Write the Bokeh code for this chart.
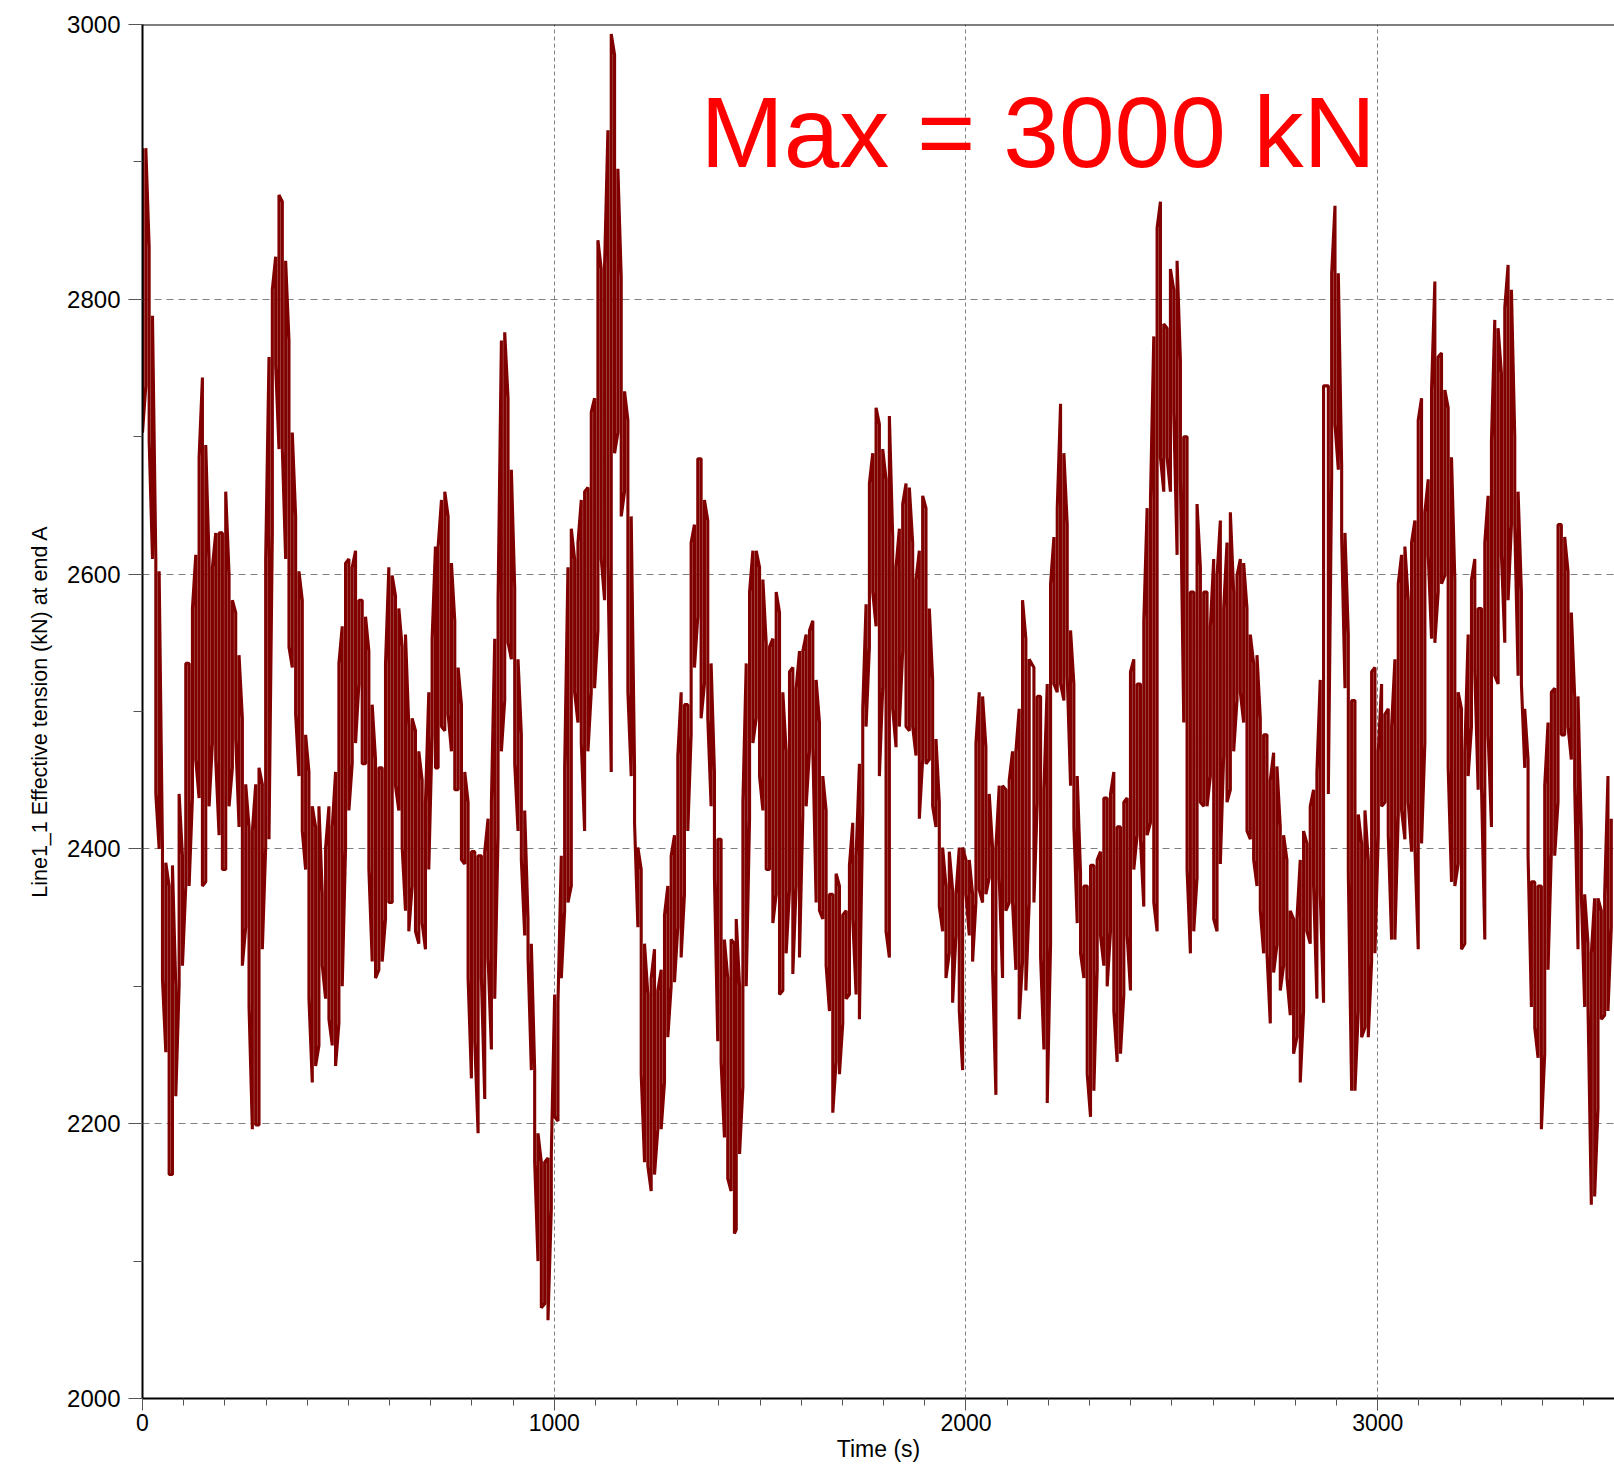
from bokeh.plotting import figure
from bokeh.models import SingleIntervalTicker, Span, Label, Range1d, ColumnDataSource
from bokeh.embed import file_html
from bokeh.resources import INLINE

# ---- Data -----------------------------------------------------------------
# The trace is very dense; it is recorded as the upper and lower extent of the
# tension (kN) within successive ~8 s windows, in five consecutive segments.
segment_start_s = [0.0, 718.0, 1442.0, 2165.0, 2880.0]
window_s = 8.085

upper_a = [2910, 2910, 2838, 2788, 2611, 2602, 2400, 2390, 2373, 2388,
           2300, 2440, 2395, 2535, 2535, 2575, 2614, 2685, 2743, 2694,
           2611, 2605, 2630, 2630, 2630, 2660, 2600, 2581, 2572, 2541,
           2495, 2447, 2416, 2413, 2447, 2459, 2447, 2611, 2758, 2807,
           2831, 2876, 2871, 2828, 2770, 2703, 2642, 2602, 2581, 2483,
           2456, 2431, 2416, 2431, 2367, 2401, 2431, 2416, 2456, 2535,
           2562, 2608, 2611, 2605, 2617, 2581, 2581, 2569, 2544, 2505,
           2465, 2459, 2459, 2535, 2605, 2599, 2584, 2575, 2547, 2556,
           2489, 2495, 2486, 2471, 2450, 2434, 2514, 2553, 2620]
lower_a = [2703, 2737, 2697, 2611, 2440, 2400, 2305, 2252, 2163, 2163,
           2220, 2300, 2315, 2373, 2373, 2437, 2465, 2437, 2373, 2376,
           2431, 2477, 2465, 2410, 2385, 2385, 2431, 2459, 2480, 2416,
           2315, 2343, 2285, 2196, 2199, 2199, 2327, 2401, 2407, 2630,
           2752, 2691, 2691, 2611, 2547, 2532, 2498, 2453, 2413, 2385,
           2291, 2230, 2242, 2257, 2315, 2291, 2276, 2257, 2242, 2273,
           2300, 2401, 2428, 2462, 2477, 2520, 2462, 2462, 2385, 2318,
           2306, 2312, 2318, 2349, 2361, 2361, 2446, 2428, 2401, 2355,
           2340, 2373, 2340, 2331, 2346, 2327, 2385, 2483, 2459]

upper_b = [2620, 2654, 2660, 2642, 2608, 2566, 2532, 2505, 2456, 2434,
           2398, 2398, 2395, 2395, 2398, 2422, 2434, 2553, 2581, 2770,
           2776, 2728, 2676, 2590, 2538, 2483, 2428, 2349, 2331, 2239,
           2193, 2172, 2172, 2175, 2178, 2294, 2288, 2395, 2459, 2605,
           2633, 2611, 2623, 2654, 2660, 2663, 2718, 2728, 2843, 2822,
           2825, 2923, 2993, 2978, 2895, 2816, 2733, 2712, 2642, 2459,
           2401, 2385, 2331, 2294, 2306, 2327, 2297, 2312, 2352, 2373,
           2395, 2410, 2468, 2514, 2505, 2505, 2623, 2636, 2684, 2684,
           2654, 2639, 2535, 2456, 2407, 2407, 2334, 2306, 2334, 2331]
lower_b = [2459, 2489, 2486, 2498, 2471, 2443, 2443, 2392, 2389, 2306,
           2233, 2260, 2193, 2306, 2218, 2321, 2254, 2291, 2410, 2471,
           2508, 2550, 2538, 2462, 2413, 2392, 2337, 2321, 2239, 2172,
           2100, 2066, 2069, 2057, 2138, 2205, 2202, 2306, 2355, 2361,
           2373, 2514, 2492, 2477, 2413, 2471, 2514, 2517, 2559, 2611,
           2581, 2608, 2456, 2688, 2703, 2642, 2660, 2514, 2453, 2419,
           2343, 2236, 2172, 2169, 2151, 2163, 2196, 2196, 2230, 2263,
           2300, 2303, 2343, 2321, 2367, 2413, 2483, 2532, 2569, 2495,
           2520, 2495, 2431, 2379, 2260, 2245, 2190, 2160, 2151, 2120]

upper_c = [2349, 2300, 2434, 2535, 2587, 2617, 2617, 2605, 2596, 2550,
           2547, 2553, 2587, 2572, 2514, 2471, 2529, 2532, 2517, 2544,
           2544, 2556, 2559, 2566, 2523, 2492, 2453, 2428, 2367, 2367,
           2382, 2373, 2352, 2355, 2388, 2419, 2395, 2462, 2502, 2578,
           2666, 2688, 2721, 2709, 2691, 2669, 2715, 2627, 2605, 2633,
           2651, 2666, 2663, 2623, 2596, 2617, 2657, 2648, 2575, 2523,
           2480, 2434, 2401, 2373, 2398, 2370, 2367, 2401, 2401, 2392,
           2392, 2367, 2477, 2514, 2511, 2474, 2440, 2401, 2401, 2446,
           2446, 2443, 2450, 2471, 2471, 2502, 2581, 2553, 2538]
lower_c = [2123, 2178, 2227, 2300, 2422, 2477, 2495, 2453, 2428, 2385,
           2385, 2346, 2367, 2294, 2297, 2324, 2370, 2309, 2373, 2321,
           2425, 2431, 2471, 2474, 2361, 2355, 2349, 2315, 2282, 2208,
           2245, 2236, 2273, 2291, 2294, 2349, 2294, 2276, 2428, 2489,
           2547, 2587, 2562, 2453, 2517, 2340, 2321, 2502, 2474, 2489,
           2544, 2489, 2486, 2489, 2468, 2422, 2465, 2462, 2465, 2431,
           2416, 2358, 2340, 2306, 2324, 2288, 2337, 2282, 2239, 2367,
           2337, 2318, 2361, 2370, 2361, 2367, 2379, 2312, 2221, 2379,
           2306, 2355, 2361, 2361, 2312, 2276, 2318, 2297, 2361]

upper_d = [2532, 2511, 2511, 2443, 2520, 2593, 2627, 2648, 2724, 2688,
           2636, 2559, 2520, 2453, 2382, 2373, 2373, 2388, 2388, 2392,
           2398, 2437, 2437, 2440, 2456, 2416, 2416, 2434, 2437, 2529,
           2538, 2520, 2520, 2566, 2648, 2654, 2773, 2852, 2871, 2782,
           2779, 2822, 2807, 2828, 2755, 2700, 2700, 2587, 2587, 2651,
           2605, 2587, 2587, 2562, 2611, 2599, 2639, 2575, 2623, 2645,
           2587, 2599, 2611, 2608, 2575, 2556, 2535, 2541, 2495, 2483,
           2483, 2450, 2470, 2460, 2416, 2410, 2392, 2355, 2349, 2349,
           2392, 2413, 2404, 2431, 2443, 2456, 2523, 2737]
lower_d = [2361, 2434, 2321, 2254, 2215, 2331, 2520, 2514, 2520, 2508,
           2526, 2446, 2416, 2346, 2324, 2306, 2236, 2205, 2224, 2312,
           2337, 2315, 2300, 2340, 2282, 2245, 2251, 2294, 2337, 2297,
           2385, 2410, 2407, 2358, 2410, 2419, 2361, 2340, 2685, 2660,
           2685, 2660, 2718, 2614, 2669, 2492, 2385, 2324, 2340, 2379,
           2434, 2431, 2431, 2453, 2349, 2340, 2389, 2468, 2434, 2443,
           2471, 2508, 2514, 2492, 2413, 2407, 2392, 2373, 2355, 2324,
           2324, 2273, 2310, 2330, 2297, 2315, 2306, 2279, 2251, 2263,
           2230, 2282, 2340, 2331, 2373, 2291, 2367, 2288]

upper_e = [2737, 2819, 2868, 2819, 2679, 2630, 2556, 2508, 2508, 2425,
           2404, 2428, 2392, 2529, 2532, 2471, 2520, 2498, 2502, 2489,
           2538, 2593, 2614, 2620, 2581, 2623, 2639, 2712, 2728, 2645,
           2669, 2734, 2813, 2758, 2761, 2734, 2721, 2685, 2596, 2514,
           2502, 2471, 2556, 2596, 2611, 2575, 2575, 2623, 2657, 2697,
           2785, 2779, 2746, 2794, 2825, 2807, 2700, 2660, 2587, 2502,
           2465, 2376, 2376, 2373, 2373, 2446, 2492, 2514, 2517, 2636,
           2636, 2627, 2602, 2572, 2511, 2511, 2413, 2367, 2331, 2324,
           2364, 2364, 2355, 2367, 2453, 2422]
lower_e = [2440, 2672, 2709, 2676, 2627, 2517, 2382, 2224, 2224, 2282,
           2263, 2270, 2263, 2318, 2324, 2410, 2431, 2434, 2410, 2334,
           2334, 2425, 2428, 2407, 2434, 2398, 2401, 2327, 2404, 2477,
           2614, 2553, 2550, 2587, 2593, 2599, 2459, 2376, 2373, 2389,
           2327, 2331, 2453, 2489, 2529, 2443, 2446, 2334, 2483, 2416,
           2526, 2520, 2614, 2550, 2581, 2636, 2636, 2526, 2520, 2459,
           2395, 2285, 2270, 2248, 2196, 2251, 2312, 2398, 2395, 2434,
           2483, 2483, 2489, 2465, 2446, 2327, 2367, 2285, 2285, 2141,
           2147, 2211, 2276, 2279, 2282, 2343]

x_ticks_interval = 1000
y_ticks_interval = 200
annotation_text = "Max = 3000 kN"
x_label = "Time (s)"
y_label = "Line1_1 Effective tension (kN) at end A"

# ---- Build the trace: each window drawn as a vertical stroke --------------
segments = [(upper_a, lower_a), (upper_b, lower_b), (upper_c, lower_c),
            (upper_d, lower_d), (upper_e, lower_e)]
t_pts, v_pts = [], []
k = 0
for start, (up, lo) in zip(segment_start_s, segments):
    for i, (hi_v, lo_v) in enumerate(zip(up, lo)):
        t = start + i * window_s
        t_pts += [t, t]
        v_pts += [hi_v, lo_v] if k % 2 == 0 else [lo_v, hi_v]
        k += 1
source = ColumnDataSource(data=dict(t=t_pts, v=v_pts))

# ---- Figure ----------------------------------------------------------------
FONT = "Liberation Sans"
p = figure(width=1614, height=1464, output_backend="svg", toolbar_location=None,
           x_range=Range1d(0, 3575), y_range=Range1d(2000, 3000),
           min_border_left=142, min_border_right=0,
           min_border_top=24, min_border_bottom=66)
p.outline_line_color = None
p.background_fill_color = "white"
p.border_fill_color = "white"

p.xaxis.ticker = SingleIntervalTicker(interval=x_ticks_interval, num_minor_ticks=10)
p.yaxis.ticker = SingleIntervalTicker(interval=y_ticks_interval, num_minor_ticks=2)

for ax in (p.xaxis, p.yaxis):
    ax.axis_line_color = "black"
    ax.axis_line_width = 2
    ax.major_tick_line_color = "#555555"
    ax.minor_tick_line_color = "#555555"
    ax.major_tick_in = 0
    ax.minor_tick_in = 0
    ax.major_label_text_font = FONT
    ax.major_label_text_color = "black"
    ax.axis_label_text_font = FONT
    ax.axis_label_text_font_style = "normal"
    ax.axis_label_text_color = "black"

p.xaxis.major_tick_out = 12
p.xaxis.minor_tick_out = 7
p.xaxis.major_label_text_font_size = "23px"
p.xaxis.major_label_standoff = 3
p.xaxis.axis_label = x_label
p.xaxis.axis_label_text_font_size = "23px"
p.xaxis.axis_label_standoff = 2

p.yaxis.major_tick_out = 14
p.yaxis.minor_tick_out = 9
p.yaxis.major_label_text_font_size = "24px"
p.yaxis.major_label_standoff = 8
p.yaxis.axis_label = y_label
p.yaxis.axis_label_text_font_size = "21.5px"
p.yaxis.axis_label_standoff = 12

p.xgrid.grid_line_color = "#808080"
p.xgrid.grid_line_dash = "4 3"
p.xgrid.grid_line_width = 1
p.ygrid.grid_line_color = "#808080"
p.ygrid.grid_line_dash = "7 5"
p.ygrid.grid_line_width = 1

p.line(x="t", y="v", source=source, line_color="#800000", line_width=3.1,
       line_join="bevel")

p.add_layout(Span(location=3000, dimension="width", line_color="black",
                  line_width=2))

p.add_layout(Label(x=1355, y=2922, text=annotation_text, text_color="#ff0000",
                   text_font=FONT, text_font_size="100px",
                   text_baseline="alphabetic", text_align="left"))

open("out.html", "w").write(file_html(p, INLINE))
